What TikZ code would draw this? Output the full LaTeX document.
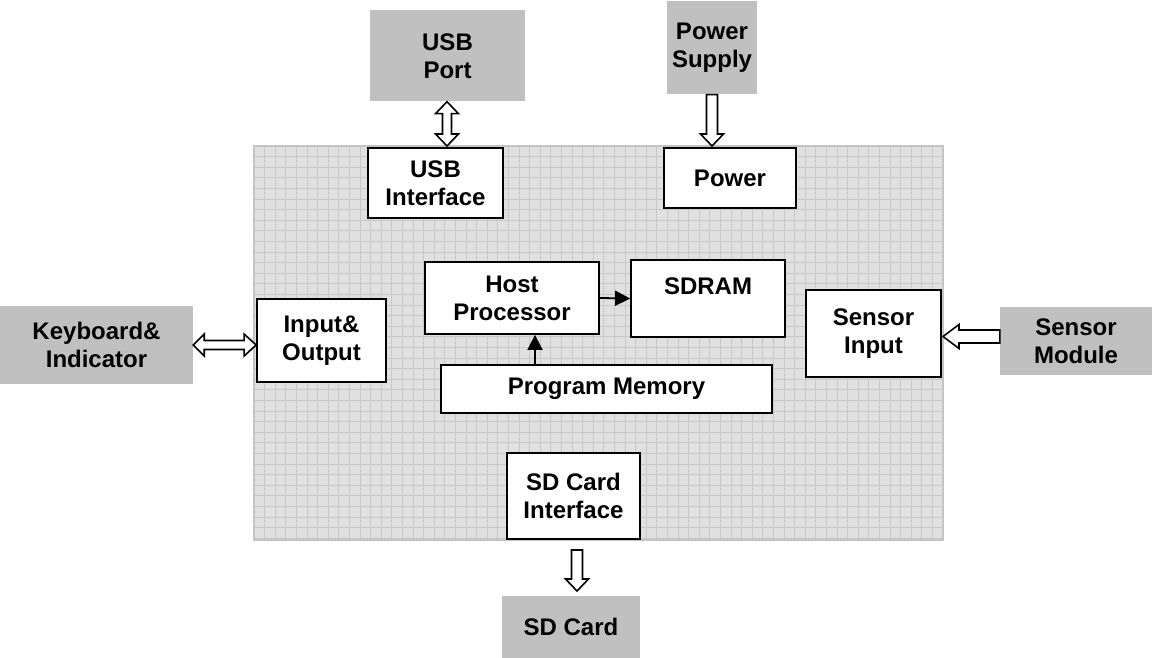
\documentclass[tikz,border=0pt]{standalone}
\usepackage{fontspec}
\setmainfont{Liberation Sans}
\usetikzlibrary{calc,arrows.meta}
\definecolor{boxgray}{HTML}{C0C0C0}
\definecolor{areafill}{HTML}{E0E0E0}
\definecolor{gridcol}{HTML}{C8C8C8}
\definecolor{areaborder}{HTML}{C4C4C4}
\tikzset{
  base/.style={inner sep=0pt, align=center, font=\bfseries\fontsize{24}{28}\selectfont},
  wbox/.style={base, draw=black, line width=1.8pt, fill=white},
  gbox/.style={base, fill=boxgray},
  hollow/.style={draw=black, line width=1.6pt, fill=white, line join=miter},
  solidarrow/.style={line width=1.8pt, -{Triangle[length=15pt,width=15pt]}},
}
\newcommand\vdoublearrow[2]{%
  \draw[hollow] (#1) -- ($(#1)+(11.5,12)$) -- ($(#1)+(4.5,12)$) -- ($(#2)+(4.5,-12)$) -- ($(#2)+(11.5,-12)$) -- (#2) -- ($(#2)+(-11.5,-12)$) -- ($(#2)+(-4.5,-12)$) -- ($(#1)+(-4.5,12)$) -- ($(#1)+(-11.5,12)$) -- cycle;}
\newcommand\hdoublearrow[2]{%
  \draw[hollow] (#1) -- ($(#1)+(11,-11)$) -- ($(#1)+(11,-4.5)$) -- ($(#2)+(-12,-4.5)$) -- ($(#2)+(-12,-11)$) -- (#2) -- ($(#2)+(-12,11)$) -- ($(#2)+(-12,4.5)$) -- ($(#1)+(11,4.5)$) -- ($(#1)+(11,11)$) -- cycle;}
% vertical down: #1 shaft top centre, #2 tip
\newcommand\vdownarrow[2]{%
  \draw[hollow] ($(#1)+(-5.5,0)$) -- ($(#1)+(5.5,0)$) -- ($(#2)+(5.5,-12)$) -- ($(#2)+(11.5,-12)$) -- (#2) -- ($(#2)+(-11.5,-12)$) -- ($(#2)+(-5.5,-12)$) -- cycle;}
% horizontal left: #1 shaft right centre, #2 tip
\newcommand\hleftarrow[2]{%
  \draw[hollow] ($(#1)+(0,-6.5)$) -- ($(#1)+(0,6.5)$) -- ($(#2)+(16,6.5)$) -- ($(#2)+(16,12)$) -- (#2) -- ($(#2)+(16,-12)$) -- ($(#2)+(16,-6.5)$) -- cycle;}
\begin{document}
\begin{tikzpicture}[x=1pt,y=-1pt]
\useasboundingbox (0,0) rectangle (1152,658);
% main area with grid
\fill[areafill] (254,146) rectangle (943,540);
\begin{scope}[shift={(254,146)}]
  \draw[gridcol, line width=0.8pt, step=10.6pt] (0pt,0pt) grid (689pt,-394pt);
\end{scope}
\draw[areaborder, line width=2pt] (254,146) rectangle (943,540);

% outer gray boxes
\node[gbox, minimum width=155, minimum height=91] (usbport) at (447.5,56) {USB\\Port};
\node[gbox, minimum width=90, minimum height=93] (psupply) at (712,48) {Power\\Supply};
\node[gbox, minimum width=193, minimum height=78] (keyb) at (96.5,345) {Keyboard\&\\Indicator};
\node[gbox, minimum width=152, minimum height=68] (sensmod) at (1076,341) {Sensor\\Module};
\node[gbox, minimum width=138, minimum height=62] (sdcard) at (571,627) {SD Card};

% inner white boxes
\node[wbox, minimum width=135, minimum height=70] (usbif) at (435.5,183) {USB\\Interface};
\node[wbox, minimum width=132, minimum height=60] (power) at (730,178) {Power};
\node[wbox, minimum width=174, minimum height=72] (host) at (512,298) {Host\\Processor};
\node[wbox, minimum width=154, minimum height=77] (sdram) at (708,298.5) {};
\node[base, anchor=north] at ($(sdram.north)+(0,18)$) {SDRAM};
\node[wbox, minimum width=129, minimum height=83] (io) at (321.5,340.5) {Input\&\\Output};
\node[wbox, minimum width=135, minimum height=87] (sensin) at (873.5,333.5) {Sensor\\Input};
\node[wbox, minimum width=331, minimum height=48] (progmem) at (606.5,389) {Program Memory};
\node[wbox, minimum width=133, minimum height=86] (sdif) at (573.5,496) {SD Card\\Interface};

% solid arrows
\draw[solidarrow] (host.east) -- (sdram.west);
\draw[solidarrow] (progmem.north -| 535,0) -- (host.south -| 535,0);

% hollow arrows
\coordinate (usbtop) at (usbport.south -| 447,0);
\coordinate (usbbot) at (447,146);
\vdoublearrow{usbtop}{usbbot}
\coordinate (pwtop) at (psupply.south);
\coordinate (pwbot) at (712,146);
\vdownarrow{pwtop}{pwbot}
\coordinate (kbleft) at (keyb.east |- 0,345);
\coordinate (kbright) at (io.west |- 0,345);
\hdoublearrow{kbleft}{kbright}
\coordinate (smright) at (sensmod.west |- 0,336.5);
\coordinate (smtip) at (943,336.5);
\hleftarrow{smright}{smtip}
\coordinate (sdtop) at (577,550);
\coordinate (sdtip) at (577,591);
\vdownarrow{sdtop}{sdtip}
\end{tikzpicture}
\end{document}
